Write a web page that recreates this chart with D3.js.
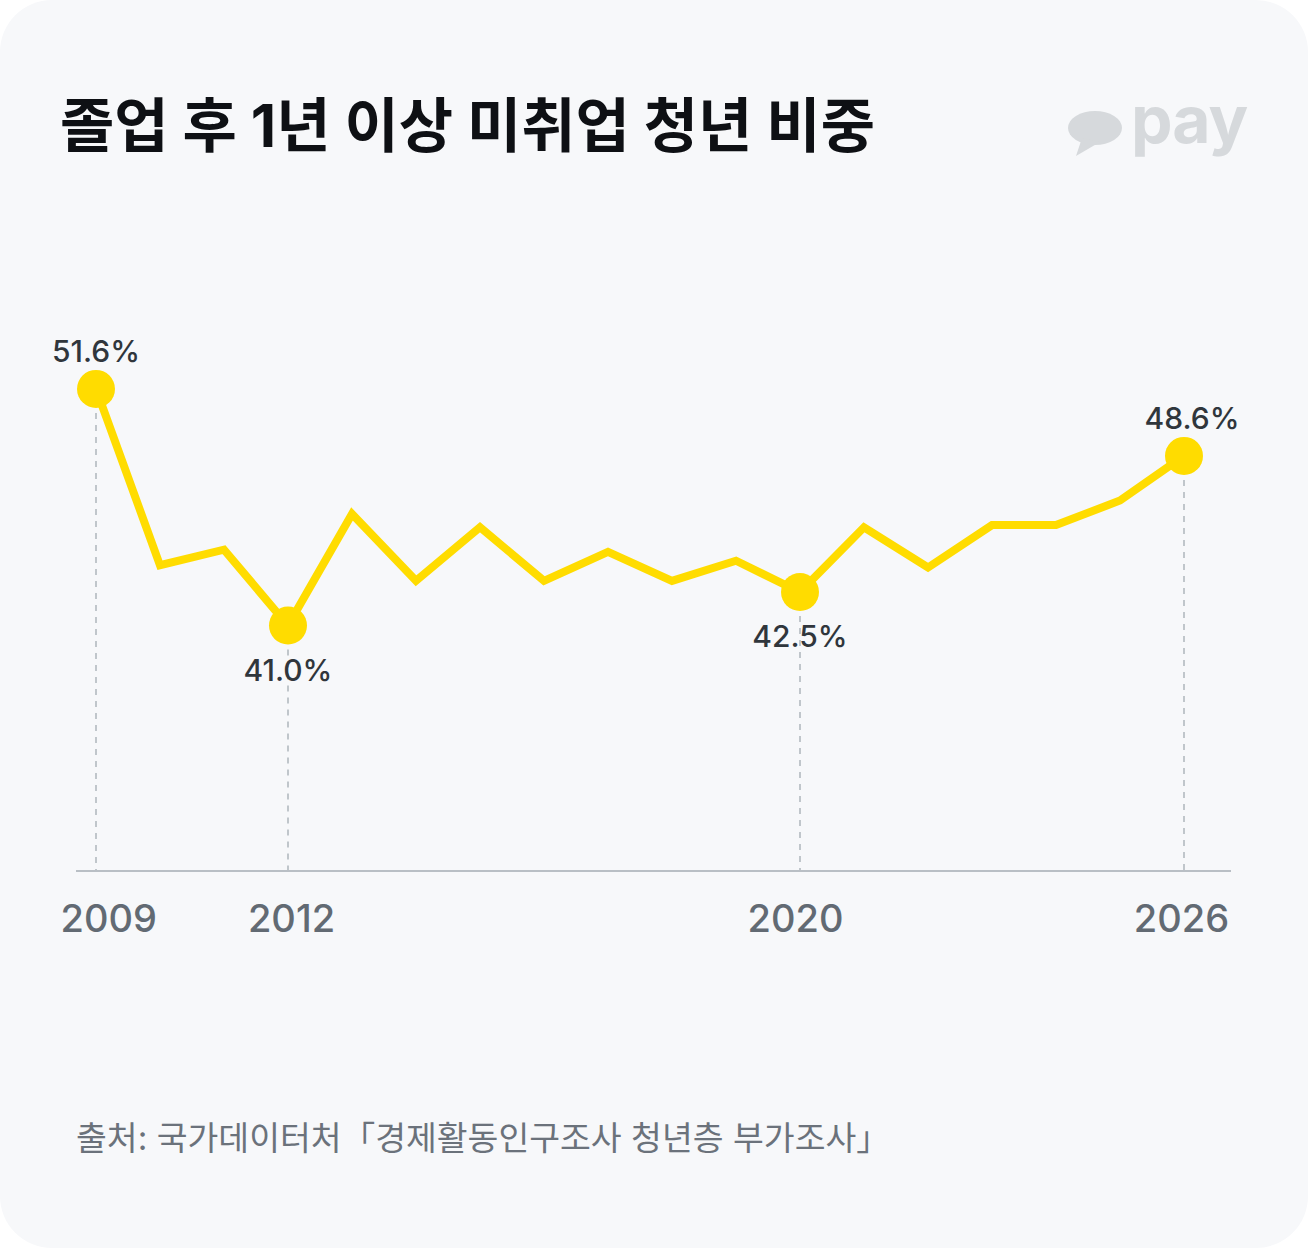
<!DOCTYPE html>
<html>
<head>
<meta charset="utf-8">
<script src="https://cdn.jsdelivr.net/npm/d3@7"></script>
<style>
  html, body { margin: 0; padding: 0; background: #ffffff; }
  svg { display: block; font-family: Inter, "Noto Sans CJK KR", sans-serif; }
</style>
</head>
<body>
<svg id="chart" width="1308" height="1248"></svg>
<script>
// data
const years = [2009, 2010, 2011, 2012, 2013, 2014, 2015, 2016, 2017, 2018, 2019, 2020, 2021, 2022, 2023, 2024, 2025, 2026];
const rates = [51.6, 43.7, 44.4, 41.0, 46.0, 43.0, 45.4, 43.0, 44.3, 43.0, 43.9, 42.5, 45.4, 43.6, 45.5, 45.5, 46.6, 48.6];
const markedYears = [2009, 2012, 2020, 2026];
const markedBelow = [false, true, true, false];
const tickYears = [2009, 2012, 2020, 2026];

const title = '졸업 후 1년 이상 미취업 청년 비중';
const source = '출처: 국가데이터처「경제활동인구조사 청년층 부가조사」';

const data = years.map((yr, i) => ({ year: yr, value: rates[i] }));

const svg = d3.select('#chart');

// card background
svg.append('rect')
  .attr('x', 0).attr('y', 0)
  .attr('width', 1308).attr('height', 1248)
  .attr('rx', 52)
  .attr('fill', '#f7f8fa');

// title
svg.append('text')
  .attr('x', 60).attr('y', 147)
  .attr('font-size', 59)
  .attr('font-weight', 700)
  .attr('fill', '#0e1014')
  .text(title);

// pay logo (speech bubble + word)
const logo = svg.append('g').attr('fill', '#d6d9dc');
logo.append('ellipse')
  .attr('cx', 1095).attr('cy', 128)
  .attr('rx', 27).attr('ry', 17);
logo.append('path')
  .attr('d', 'M1082,138 L1076,156 L1100,142 Z');
logo.append('text')
  .attr('x', 1131).attr('y', 143)
  .attr('font-size', 66)
  .attr('font-weight', 700)
  .attr('letter-spacing', -1)
  .text('pay');

// scales
const x = d3.scaleLinear().domain([2009, 2026]).range([96, 1184]);
const y = d3.scaleLinear().domain([30, 52]).range([871, 380]);

// dashed guides for marked years
const marked = data.filter(d => markedYears.includes(d.year));
svg.append('g')
  .selectAll('line')
  .data(marked)
  .join('line')
    .attr('x1', d => x(d.year))
    .attr('x2', d => x(d.year))
    .attr('y1', d => y(d.value))
    .attr('y2', y(30))
    .attr('stroke', '#aeb5bc')
    .attr('stroke-width', 1.5)
    .attr('stroke-dasharray', '6,6');

// base line
svg.append('line')
  .attr('x1', x(2009) - 20).attr('x2', x(2026) + 47)
  .attr('y1', y(30)).attr('y2', y(30))
  .attr('stroke', '#b9bfc5')
  .attr('stroke-width', 2);

// x axis labels
const axis = svg.append('g')
  .attr('transform', `translate(0,${y(30)})`)
  .call(d3.axisBottom(x).tickValues(tickYears).tickFormat(d3.format('d')).tickSize(0).tickPadding(61));
axis.select('.domain').remove();
axis.selectAll('text')
  .attr('font-family', 'Inter, "Noto Sans CJK KR", sans-serif')
  .attr('font-size', 38)
  .attr('font-weight', 500)
  .attr('fill', '#626a73')
  .attr('dy', 0)
  .attr('text-anchor', d => d === 2009 ? 'start' : 'middle')
  .attr('x', d => d === 2009 ? -36 : (d === 2026 ? -3 : (d === 2020 ? -5 : 3)));

// line
const line = d3.line().x(d => x(d.year)).y(d => y(d.value));
svg.append('path')
  .datum(data)
  .attr('d', line)
  .attr('fill', 'none')
  .attr('stroke', '#ffdc00')
  .attr('stroke-width', 8)
  .attr('stroke-linejoin', 'miter');

// dots
svg.append('g')
  .selectAll('circle')
  .data(marked)
  .join('circle')
    .attr('cx', d => x(d.year))
    .attr('cy', d => y(d.value))
    .attr('r', 19)
    .attr('fill', '#ffdc00');

// value labels
svg.append('g')
  .selectAll('text')
  .data(marked)
  .join('text')
    .attr('x', d => x(d.year) + (d.year === 2026 ? 8 : 0))
    .attr('y', d => y(d.value) + (markedBelow[markedYears.indexOf(d.year)] ? 55 : -27))
    .attr('text-anchor', 'middle')
    .attr('font-size', 30)
    .attr('font-weight', 500)
    .attr('fill', '#30363c')
    .text(d => d3.format('.1f')(d.value) + '%');

// source
svg.append('text')
  .attr('x', 76).attr('y', 1150)
  .attr('font-size', 33.5)
  .attr('fill', '#6b727b')
  .text(source);
</script>
</body>
</html>
